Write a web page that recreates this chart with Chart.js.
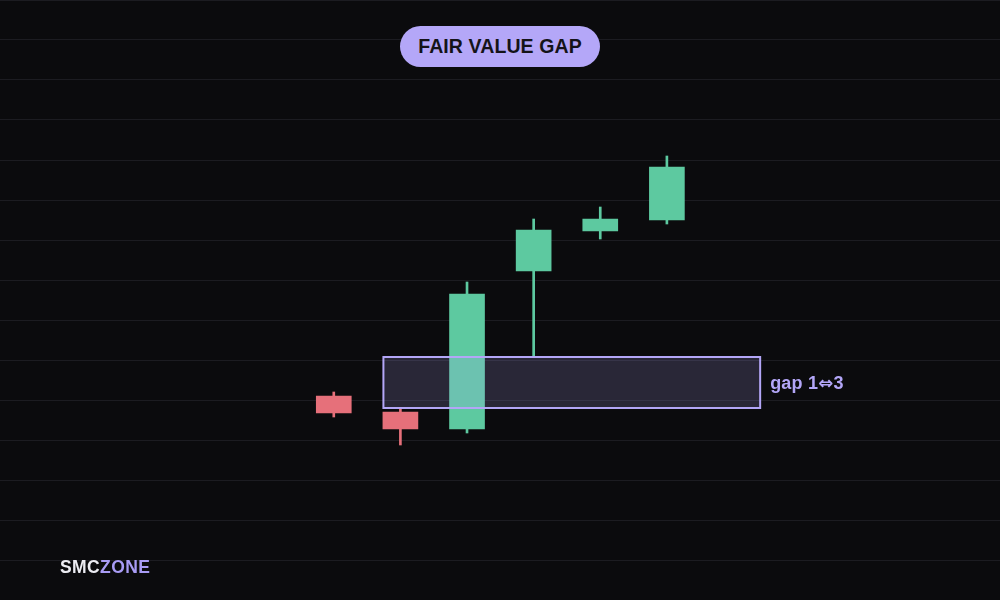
<!DOCTYPE html>
<html>
<head>
<meta charset="utf-8">
<script src="https://cdn.jsdelivr.net/npm/chart.js@4.4.1/dist/chart.umd.min.js"></script>
<style>
  html, body { margin: 0; padding: 0; background: #0b0b0d; }
  #wrap { position: relative; width: 1000px; height: 600px; overflow: hidden; }
  canvas { display: block; }
  .txt { position: absolute; font-family: 'Liberation Sans', Arial, sans-serif; font-weight: 700; white-space: nowrap; }
  #title {
    left: 400px; top: 26px; width: 200px; height: 41px; border-radius: 21px;
    background: #b4a7f8; color: #141318; font-size: 19.5px; letter-spacing: 0.1px;
    display: flex; align-items: center; justify-content: center;
  }
  #gapLabel { color: #b3a6f7; font-size: 18px; line-height: 20px; letter-spacing: 0.2px; }
  #gapLabel .arr { font-family: 'DejaVu Sans', sans-serif; font-size: 18px; }
  #brand { left: 60px; top: 556px; font-size: 17.5px; line-height: 22px; color: #ececf2; letter-spacing: 0.4px; }
  #brand span { color: #a99cf5; }
</style>
</head>
<body>
<div id="wrap">
  <canvas id="chart" width="1000" height="600"></canvas>
  <div class="txt" id="title">FAIR VALUE GAP</div>
  <div class="txt" id="gapLabel">gap 1<span class="arr">⇔</span>3</div>
  <div class="txt" id="brand">SMC<span>ZONE</span></div>
</div>
<script>
// candle data (price units)
const candleX = [0, 1, 2, 3, 4, 5];
const opens  = [51, 47, 42.75, 82.25, 92.25, 95];
const closes = [46.75, 42.75, 76.5, 92.5, 95.25, 108.25];
const highs  = [52, 48, 79.5, 95.25, 98.25, 111];
const lows   = [45.75, 38.75, 41.75, 60.75, 90.25, 94];

// fair value gap between candle 1 high and candle 3 low
const gapCandles = [1, 3];
const gapX = [0.745, 6.4];

const UP = '#5dc9a0';
const DOWN = '#e6707a';
const colors = candleX.map((x, i) => closes[i] >= opens[i] ? UP : DOWN);

const bodies = candleX.map((x, i) => ({ x: x, y: [opens[i], closes[i]] }));
const wicks = candleX.map((x, i) => ({ x: x, y: [lows[i], highs[i]] }));

// draws the gap zone over the candles
const gapBox = {
  id: 'gapBox',
  afterDatasetsDraw(chart) {
    const { ctx, scales: { x, y } } = chart;
    const x1 = x.getPixelForValue(gapX[0]);
    const x2 = x.getPixelForValue(gapX[1]);
    const yTop = y.getPixelForValue(lows[gapCandles[1]]);
    const yBot = y.getPixelForValue(highs[gapCandles[0]]);
    ctx.save();
    ctx.fillStyle = 'rgba(179,166,247,0.18)';
    ctx.fillRect(x1, yTop, x2 - x1, yBot - yTop);
    ctx.strokeStyle = '#b3a6f7';
    ctx.lineWidth = 2;
    ctx.strokeRect(x1, yTop, x2 - x1, yBot - yTop);
    ctx.restore();
  }
};

const chart = new Chart(document.getElementById('chart'), {
  type: 'bar',
  data: {
    datasets: [
      {
        data: wicks,
        backgroundColor: colors,
        barThickness: 2,
        grouped: false,
        order: 2
      },
      {
        data: bodies,
        backgroundColor: colors,
        barThickness: 35,
        grouped: false,
        order: 1
      }
    ]
  },
  options: {
    responsive: false,
    animation: false,
    devicePixelRatio: 1,
    layout: { padding: 0 },
    plugins: { legend: { display: false }, tooltip: { enabled: false } },
    scales: {
      x: {
        type: 'linear',
        min: -5.01,
        max: 10,
        offset: false,
        display: false
      },
      y: {
        min: 0,
        max: 150,
        ticks: { stepSize: 10, display: false },
        grid: { color: '#1c1c21', lineWidth: 1, drawTicks: false },
        border: { display: false }
      }
    }
  },
  plugins: [gapBox]
});

// place the gap label next to the zone
const label = document.getElementById('gapLabel');
const gx = chart.scales.x.getPixelForValue(gapX[1]);
const gyMid = (chart.scales.y.getPixelForValue(lows[gapCandles[1]]) + chart.scales.y.getPixelForValue(highs[gapCandles[0]])) / 2;
label.style.left = (gx + 10) + 'px';
label.style.top = (gyMid - 10) + 'px';
</script>
</body>
</html>
